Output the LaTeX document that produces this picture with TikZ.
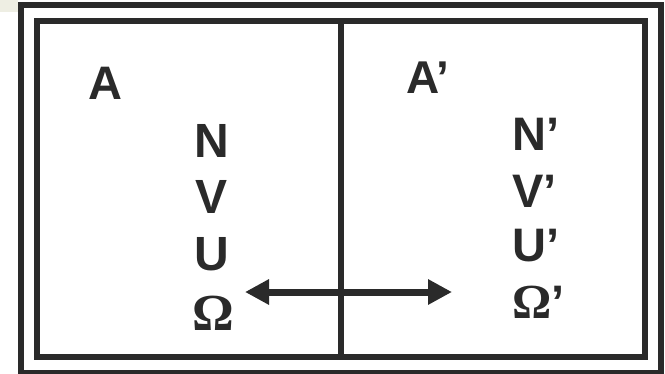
\documentclass[tikz,border=0pt]{standalone}
\usepackage{fontspec}
\setmainfont{Liberation Sans}
\newfontfamily\serifbold{Liberation Serif}[BoldFont=* Bold]
\usetikzlibrary{arrows.meta}
\definecolor{ink}{HTML}{2A2A2A}
\definecolor{paper}{HTML}{EEEEE3}
\tikzset{
  frame/.style={draw=ink, line width=6pt},
  big/.style={inner sep=0pt, text=ink, font=\bfseries\fontsize{48}{48}\selectfont},
  small/.style={inner sep=0pt, text=ink, font=\bfseries\fontsize{47}{47}\selectfont},
  exchange/.style={draw=ink, line width=7pt, {Triangle[length=24pt,width=24pt]}-{Triangle[length=24pt,width=24pt]}}
}
\begin{document}
\begin{tikzpicture}[x=1pt,y=-1pt]
  \useasboundingbox (0,0) rectangle (665,373);
  \fill[paper] (0,0) rectangle (18,12);
  % double border and the wall between the two systems
  \draw[frame] (21,5) rectangle (661,373);
  \draw[frame] (37,21) rectangle (645,357);
  \coordinate (wallTop) at (341,21);
  \coordinate (wallBot) at (341,357);
  \draw[frame] (wallTop) -- (wallBot);
  % system A
  \node[big, anchor=base west, font=\bfseries\fontsize{47}{47}\selectfont] (sysA) at (88,99) {A};
  \node[big, anchor=base] (nA) at (212,157) {N};
  \node[big, anchor=base] (vA) at (212,213) {V};
  \node[big, anchor=base] (uA) at (212,270) {U};
  \node[inner sep=0pt, text=ink, anchor=base, font=\serifbold\bfseries\fontsize{52}{52}\selectfont] (oA) at (213,330) {Ω};
  % system A'
  \node[big, anchor=base west, font=\bfseries\fontsize{46}{46}\selectfont] (sysB) at (406,93) {A’};
  \node[small, anchor=base west] (nB) at (512,150) {N’};
  \node[small, anchor=base west] (vB) at (512,207) {V’};
  \node[small, anchor=base west] (uB) at (512,261) {U’};
  \node[small, anchor=base west] (oB) at (512,318) {{\serifbold\fontsize{49}{49}\selectfont Ω}’};
  % exchange across the wall
  \coordinate (exL) at (245,292);
  \coordinate (exR) at (452,292);
  \draw[exchange] (exL) -- (exR);
\end{tikzpicture}
\end{document}
